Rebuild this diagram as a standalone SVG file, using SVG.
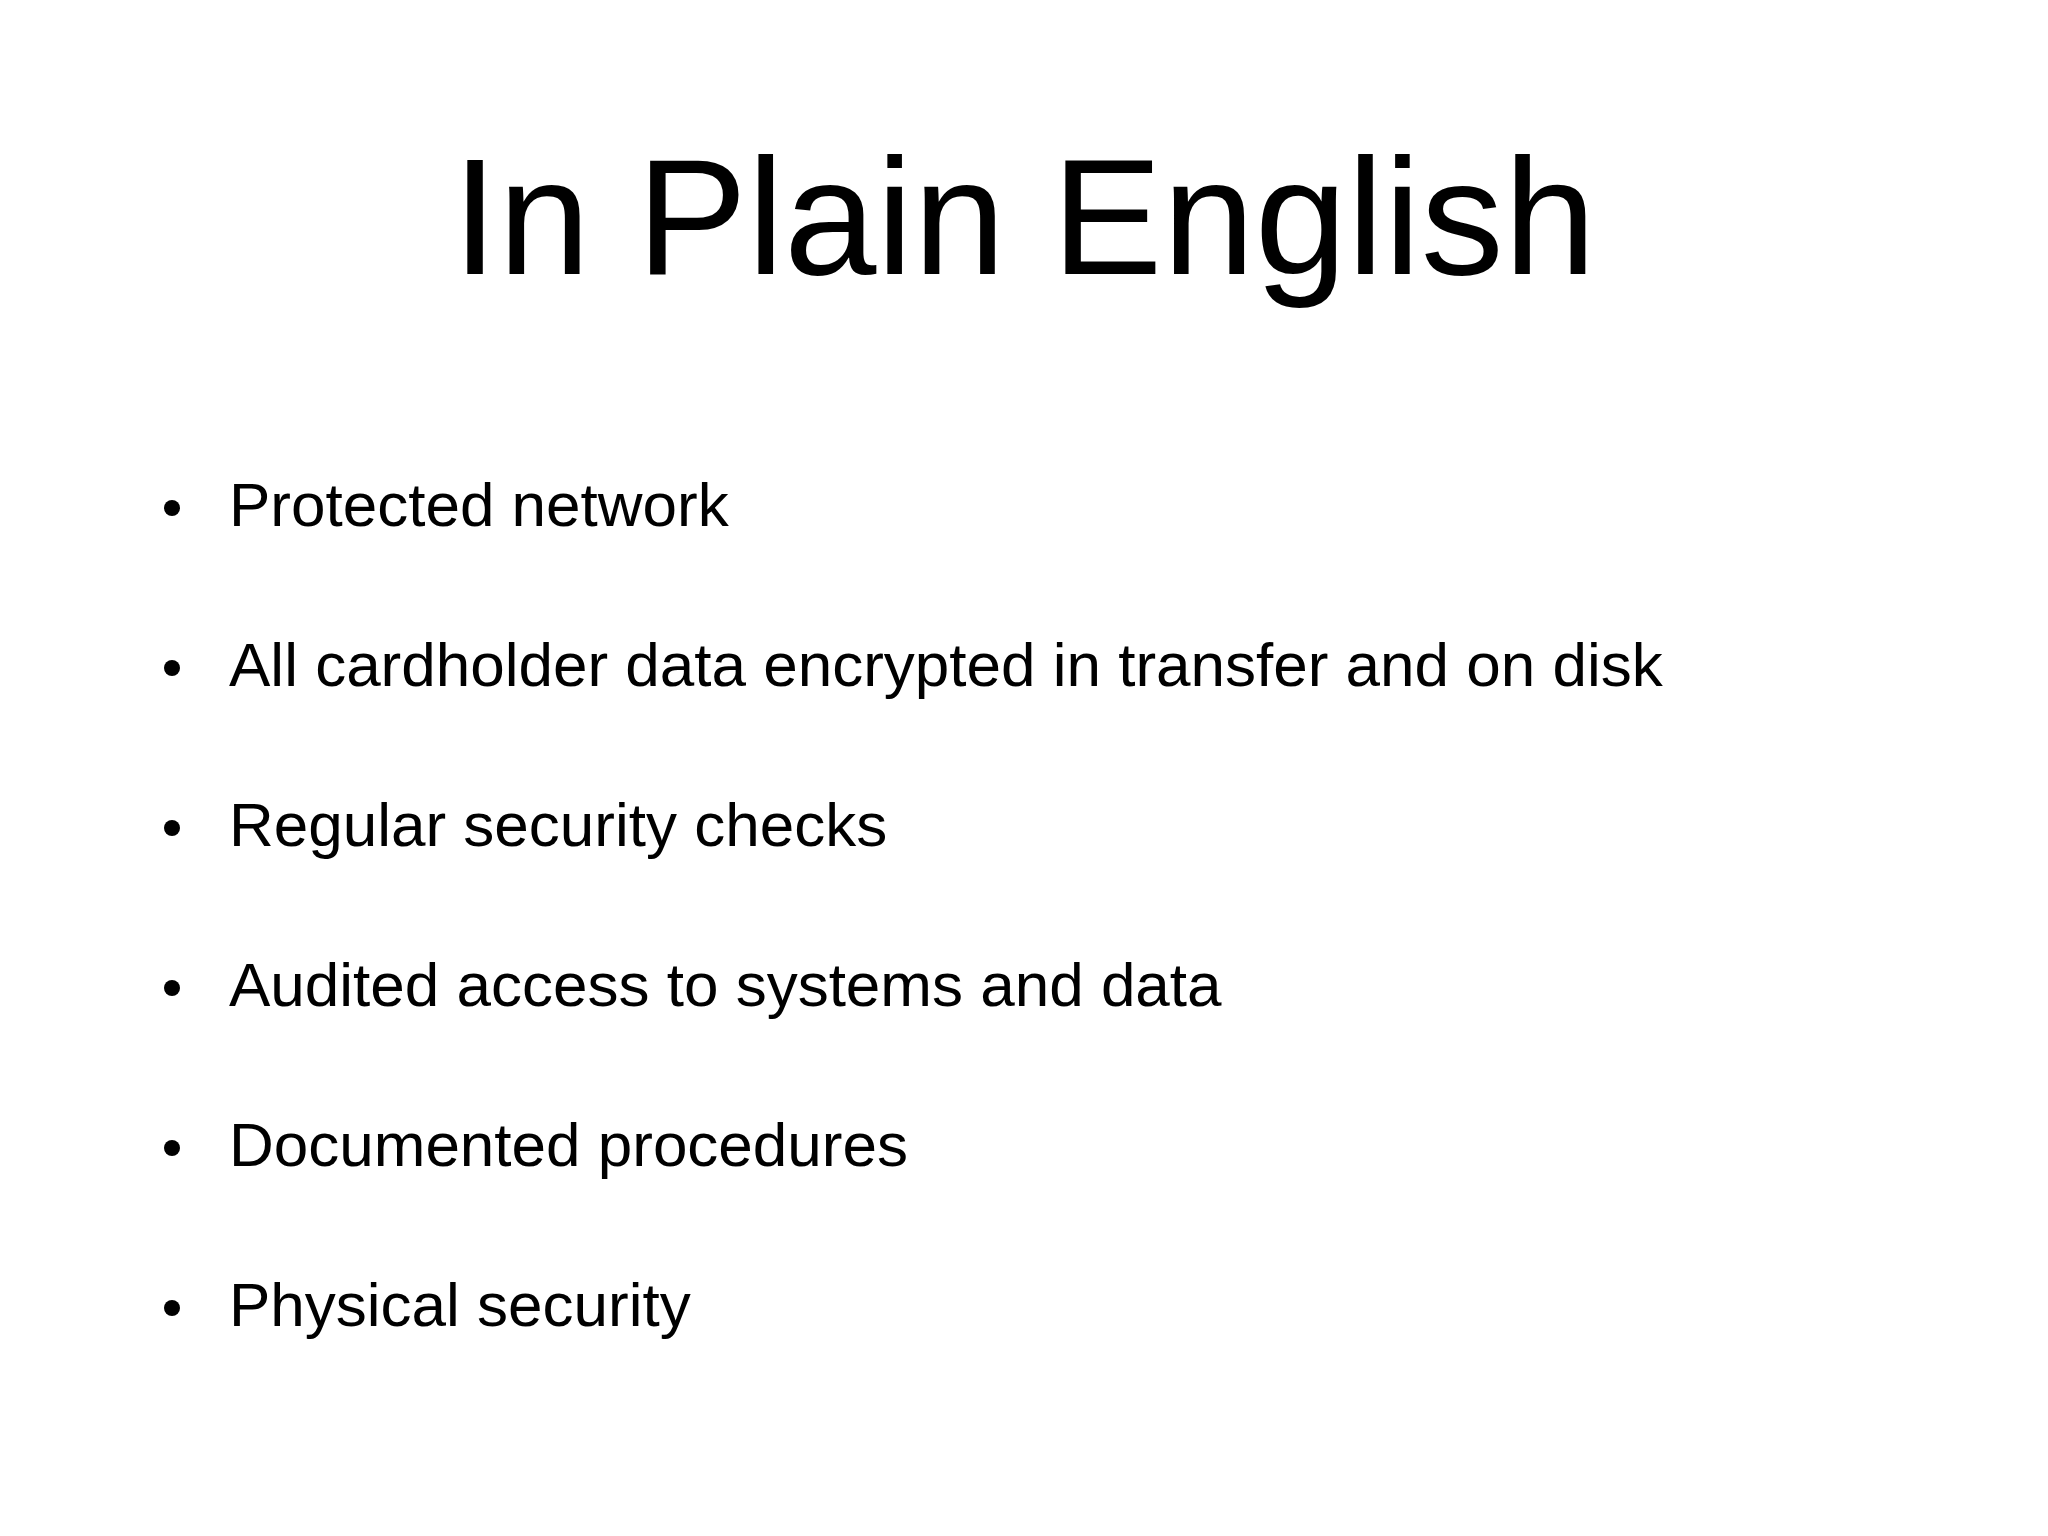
<svg xmlns="http://www.w3.org/2000/svg" width="2048" height="1536" viewBox="0 0 2048 1536">
<style>
.t{font-family:"Liberation Sans",Arial,sans-serif;fill:#000}
.b{font-size:62px}
</style>
<rect width="2048" height="1536" fill="#fff"/>
<g id="title"><text class="t" x="1024" y="274" font-size="166" text-anchor="middle">In Plain English</text></g>
<g id="bullets">
<g id="b1"><circle cx="172" cy="508" r="8"/><text class="t b" x="229" y="526">Protected network</text></g>
<g id="b2"><circle cx="172" cy="668" r="8"/><text class="t b" x="229" y="686">All cardholder data encrypted in transfer and on disk</text></g>
<g id="b3"><circle cx="172" cy="828" r="8"/><text class="t b" x="229" y="846">Regular security checks</text></g>
<g id="b4"><circle cx="172" cy="988" r="8"/><text class="t b" x="229" y="1006">Audited access to systems and data</text></g>
<g id="b5"><circle cx="172" cy="1148" r="8"/><text class="t b" x="229" y="1166">Documented procedures</text></g>
<g id="b6"><circle cx="172" cy="1308" r="8"/><text class="t b" x="229" y="1326">Physical security</text></g>
</g>
</svg>
